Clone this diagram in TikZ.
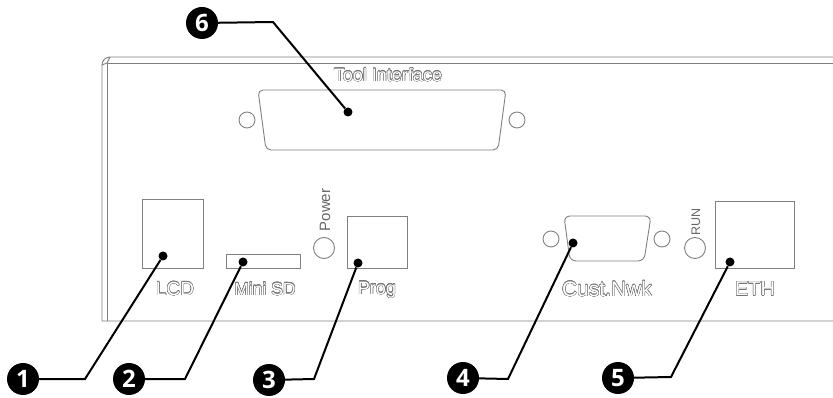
\documentclass[tikz,border=0pt]{standalone}
\usepackage{fontspec}
\usepackage{contour}
\setmainfont{Liberation Sans}
\newfontfamily\badgefont{Open Sans}
\contourlength{0.4pt}
\contournumber{16}
\newcommand{\hollow}[1]{\contour{black!55}{\textcolor{white}{#1}}}

\begin{document}
\begin{tikzpicture}[x=1pt, y=-1pt,
        panel/.style = {draw=black!50, line width=0.9pt},
        port/.style = {draw=black!50, line width=0.9pt, inner sep=0pt},
        hole/.style = {draw=black!50, line width=0.9pt, circle, inner sep=0pt},
        legend/.style = {font=\fontsize{#1}{#1}\selectfont, inner sep=0pt},
        tiny/.style = {font=\fontsize{#1}{#1}\selectfont, text=black!60, inner sep=0pt, rotate=90},
        badge/.style = {circle, fill=black, text=white, inner sep=0pt, minimum size=32pt, font=\badgefont\bfseries\fontsize{24}{24}\selectfont},
        dot/.style = {circle, fill=black, inner sep=0pt, minimum size=9pt},
        lead/.style = {draw=black, line width=2pt, line join=miter}]
        \useasboundingbox (0,0) rectangle (833,398);

        \draw[panel] (833,57) -- (110,57) to[out=180, in=90] (102,65) -- (102,321) -- (833,321);
        \draw[panel] (833,63) -- (107,63) -- (107,321);
        \draw[panel] (102,65) -- (107,63);
        \draw[panel] (110,57) -- (107,63);

        \draw[panel, rounded corners=5pt] (258,90) -- (506,90) -- (498,150) -- (266,150) -- cycle;
        \draw[panel, rounded corners=6pt] (564,216) -- (651,216) -- (644,261) -- (570,261) -- cycle;

        \node[port, minimum width=61pt, minimum height=69pt] (lcd) at (172.5,233.5) {};
        \node[port, minimum width=74pt, minimum height=14pt] (sd) at (263,261) {};
        \node[port, minimum width=60pt, minimum height=52pt] (prog) at (377,242) {};
        \node[port, minimum width=79pt, minimum height=67pt] (eth) at (754.5,234.5) {};

        \node[hole, minimum size=21pt] (power) at (324,248) {};
        \node[hole, minimum size=21pt] (run) at (695,248) {};
        \node[hole, minimum size=16pt] (h1) at (247,120) {};
        \node[hole, minimum size=16pt] (h2) at (517,120) {};
        \node[hole, minimum size=16pt] (h3) at (551,239) {};
        \node[hole, minimum size=16pt] (h4) at (662,239) {};

        \node[legend=18] (tl) at (388,75) {\hollow{Tool Interface}};
        \node[legend=19] (ll) at (175,289) {\hollow{LCD}};
        \node[legend=17.5] (ml) at (265,289) {\hollow{Mini SD}};
        \node[legend=18] (pl) at (377,290) {\hollow{Prog}};
        \node[legend=21] (cl) at (607,289) {\hollow{Cust.Nwk}};
        \node[legend=20] (el) at (755,289) {\hollow{ETH}};
        \node[tiny=15] (pw) at (325,210) {Power};
        \node[tiny=12.5] (rn) at (696,222) {RUN};

        \node[badge] (1) at (23,379) {1};
        \node[badge] (2) at (129,379) {2};
        \node[badge] (3) at (269,380) {3};
        \node[badge] (4) at (463,378) {4};
        \node[badge] (5) at (618,378) {5};
        \node[badge] (6) at (202,23) {6};

        \node[dot] (d1) at (163,256) {};
        \node[dot] (d2) at (243,262) {};
        \node[dot] (d3) at (358,263) {};
        \node[dot] (d4) at (573,243) {};
        \node[dot] (d5) at (730,262) {};
        \node[dot] (d6) at (348,112) {};

        \coordinate (k1) at (85,379);
        \coordinate (k2) at (185,379);
        \coordinate (k3) at (314,379);
        \coordinate (k4) at (508,379);
        \coordinate (k5) at (671,377);
        \coordinate (k6) at (273,22);

        \draw[lead] (1) -- (k1) -- (d1);
        \draw[lead] (2) -- (k2) -- (d2);
        \draw[lead] (3) -- (k3) -- (d3);
        \draw[lead] (4) -- (k4) -- (d4);
        \draw[lead] (5) -- (k5) -- (d5);
        \draw[lead] (6) -- (k6) -- (d6);
    \end{tikzpicture}
\end{document}
